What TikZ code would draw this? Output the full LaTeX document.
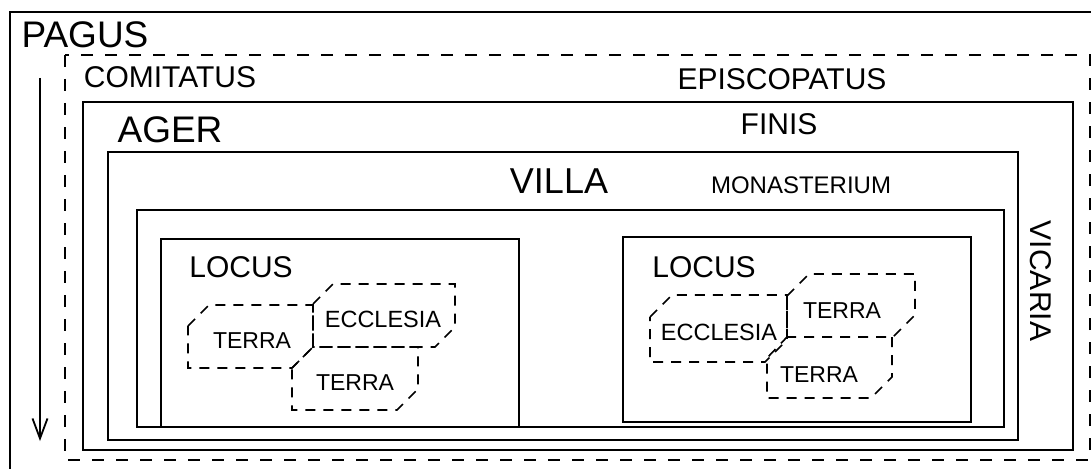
\documentclass[tikz,border=0pt]{standalone}
\usepackage{fontspec}
\setmainfont{Liberation Sans}
\usetikzlibrary{arrows.meta}
\newcommand{\fsz}[1]{\fontsize{#1}{#1}\selectfont}
\newcommand{\snipbox}[5]{\draw[snipline] ({#1},{#2+#5}) -- ({#1+#5},{#2}) -- ({#3},{#2}) -- ({#3},{#4-#5}) -- ({#3-#5},{#4}) -- ({#1},{#4}) -- cycle;}
\begin{document}
\begin{tikzpicture}[x=1pt,y=-1pt,
  box/.style={draw=black, line width=1.8pt},
  dbox/.style={draw=black, line width=1.8pt, dash pattern=on 12pt off 12pt},
  snipline/.style={draw=black, line width=1.6pt, dash pattern=on 10pt off 8pt},
  lbl/.style={inner sep=0pt, anchor=base},
]
\useasboundingbox (0,0) rectangle (1091,468);
\clip (0,0) rectangle (1091,468);
\fill[white] (0,0) rectangle (1091,468);

% nested frames
\draw[box] (10,12) rectangle (1120,490);
\draw[dbox] (65,55) rectangle (1090,460);
\draw[box] (83,102) rectangle (1073,450);
\draw[box] (108,152) rectangle (1018,440);
\draw[box] (137,210) rectangle (1004,427);
\draw[box] (161,239) rectangle (519,427);
\draw[box] (623,237) rectangle (971,422);

% labels
\node[lbl, font=\fsz{37}] (pagus) at (85,48) {PAGUS};
\node[lbl, font=\fsz{30}] (comitatus) at (170,88) {COMITATUS};
\node[lbl, font=\fsz{30}] (episcopatus) at (782,90) {EPISCOPATUS};
\node[lbl, font=\fsz{37}] (ager) at (170,142) {AGER};
\node[lbl, font=\fsz{30}] (finis) at (779,135) {FINIS};
\node[lbl, font=\fsz{36}] (villa) at (559,193) {VILLA};
\node[lbl, font=\fsz{24}] (monasterium) at (801,193) {MONASTERIUM};
\node[lbl, font=\fsz{30}, rotate=-90] (vicaria) at (1030,281) {VICARIA};
\node[lbl, font=\fsz{30}] (locusA) at (241,277) {LOCUS};
\node[lbl, font=\fsz{30}] (locusB) at (704,277) {LOCUS};

% left locus parcels
\snipbox{188}{305}{313}{368}{21}
\snipbox{313}{284}{455}{347}{20}
\snipbox{292}{347}{418}{410}{21}
\node[lbl, font=\fsz{23}] (terraA1) at (252,348) {TERRA};
\node[lbl, font=\fsz{23.5}] (ecclesiaA) at (383,327) {ECCLESIA};
\node[lbl, font=\fsz{23}] (terraA2) at (355,390) {TERRA};

% right locus parcels
\snipbox{650}{295}{787}{362}{22}
\snipbox{787}{274}{915}{337}{22}
\draw[snipline] (892,337) -- (892,377) -- (871,398) -- (767,398) -- (767,358) -- (787,337);
\node[lbl, font=\fsz{23.5}] (ecclesiaB) at (719,340) {ECCLESIA};
\node[lbl, font=\fsz{23}] (terraB1) at (842,318) {TERRA};
\node[lbl, font=\fsz{23}] (terraB2) at (819,382) {TERRA};

% direction arrow
\coordinate (arrowtop) at (40,78);
\coordinate (arrowend) at (40,441);
\draw[line width=1.8pt, -{Straight Barb[length=20pt,width=15pt]}] (arrowtop) -- (arrowend);
\end{tikzpicture}
\end{document}
